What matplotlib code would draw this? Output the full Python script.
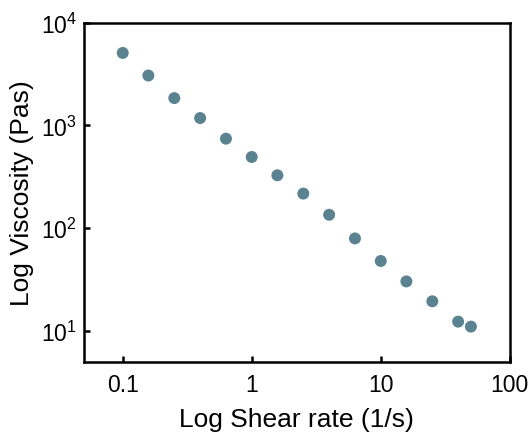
import numpy as np
import matplotlib.pyplot as plt
from matplotlib.ticker import LogLocator, LogFormatterSciNotation, NullLocator

plt.rcParams['font.family'] = ['Liberation Sans', 'DejaVu Sans']
plt.rcParams['mathtext.fontset'] = 'custom'
plt.rcParams['mathtext.rm'] = 'Liberation Sans'

# shear rate (1/s) and viscosity (Pa s)
shear_rate = [0.1, 0.158, 0.251, 0.398, 0.631, 1.0, 1.58, 2.51, 3.98, 6.31,
              10.0, 15.8, 25.1, 39.8, 50.0]
viscosity = [5080, 3060, 1845, 1180, 743, 493, 327, 217, 135, 79.4,
             47.9, 30.3, 19.4, 12.3, 11.0]

x_ticks = [0.1, 1, 10, 100]
x_tick_labels = ['0.1', '1', '10', '100']

fig = plt.figure(figsize=(5.31, 4.35), dpi=100)
ax = fig.add_axes([0.158, 0.166, 0.802, 0.7795])

ax.scatter(shear_rate, viscosity, s=74, color='#5a8290', edgecolors='none', zorder=3)

ax.set_xscale('log')
ax.set_yscale('log')
ax.set_xlim(0.05, 100)
ax.set_ylim(5, 1e4)

ax.set_xticks(x_ticks)
ax.set_xticklabels(x_tick_labels)
ax.xaxis.set_minor_locator(NullLocator())
ax.yaxis.set_major_locator(LogLocator(base=10, numticks=10))
ax.yaxis.set_major_formatter(LogFormatterSciNotation())
ax.yaxis.set_minor_locator(NullLocator())

for sp in ax.spines.values():
    sp.set_linewidth(1.8)
ax.tick_params(which='major', direction='in', length=4, width=1.8, labelsize=16.5)
ax.tick_params(axis='x', pad=8)
ax.tick_params(axis='y', pad=5)

ax.set_xlabel('Log Shear rate (1/s)', fontsize=19, labelpad=8)
ax.set_ylabel('Log Viscosity (Pas)', fontsize=19, labelpad=5)

fig.savefig('out.png', dpi=100)
